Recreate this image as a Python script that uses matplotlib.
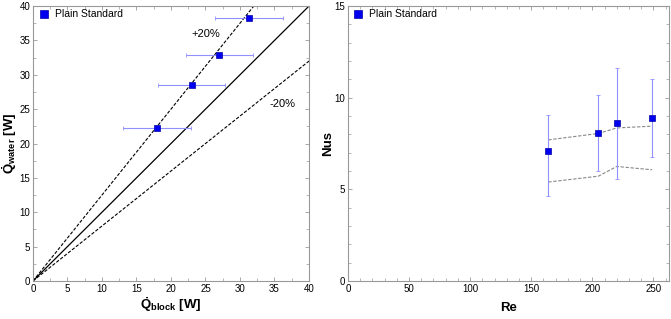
import matplotlib
matplotlib.use('Agg')
import matplotlib.pyplot as plt
from matplotlib.ticker import MultipleLocator
import numpy as np

plt.rcParams['font.family'] = ['Liberation Sans', 'DejaVu Sans']
plt.rcParams['mathtext.fontset'] = 'custom'
plt.rcParams['mathtext.rm'] = 'Liberation Sans:bold'
plt.rcParams['mathtext.bf'] = 'Liberation Sans:bold'
plt.rcParams['mathtext.it'] = 'Liberation Sans:italic'

# left panel: energy balance
q_block = [18.0, 23.0, 27.0, 31.3]
q_water = [22.3, 28.5, 32.9, 38.2]
q_block_err = [4.9, 4.9, 4.85, 4.9]

# right panel: Nusselt vs Reynolds
re = [164, 205, 220, 249]
nus = [7.1, 8.07, 8.6, 8.87]
nus_err_low = [2.45, 2.07, 3.02, 2.09]
nus_err_high = [1.97, 2.08, 3.04, 2.15]
nus_band_up = [7.7, 8.05, 8.35, 8.45]
nus_band_low = [5.4, 5.72, 6.25, 6.07]

marker_color = '#0000ee'
err_color = '#9090ff'
frame_color = '#999999'

fig = plt.figure(figsize=(6.71, 3.19), dpi=100)
ax1 = fig.add_axes([0.049, 0.119, 0.4115, 0.862])
ax2 = fig.add_axes([0.5186, 0.119, 0.4788, 0.862])


def style_axes(ax):
    for s in ax.spines.values():
        s.set_color(frame_color)
        s.set_linewidth(0.8)
    ax.tick_params(which='both', direction='in', top=True, right=True,
                   color=frame_color, labelsize=7, pad=2)
    ax.tick_params(which='major', length=3, width=0.6)
    ax.tick_params(which='minor', length=2, width=0.5)


# ---- left
xx = np.array([0, 40])
ax1.plot(xx, xx, color='black', lw=0.9)
ax1.plot(xx, xx / 0.8, color='black', lw=0.8, ls=(0, (3, 1.5)))
ax1.plot(xx, xx * 0.8, color='black', lw=0.8, ls=(0, (3, 1.5)))
ax1.errorbar(q_block, q_water, xerr=q_block_err, fmt='none', ecolor=err_color,
             elinewidth=0.8, capsize=1.5, capthick=0.6)
ax1.plot(q_block, q_water, 's', color=marker_color, ms=4.5, mec='#0000aa', mew=0.5,
         label='Plain Standard', ls='none')
ax1.text(25.1, 36.0, '+20%', fontsize=8, ha='center', va='center')
ax1.text(36.2, 25.7, '-20%', fontsize=8, ha='center', va='center')
ax1.set_xlim(0, 40)
ax1.set_ylim(0, 40)
ax1.xaxis.set_major_locator(MultipleLocator(5))
ax1.xaxis.set_minor_locator(MultipleLocator(2.5))
ax1.yaxis.set_major_locator(MultipleLocator(5))
ax1.yaxis.set_minor_locator(MultipleLocator(2.5))
style_axes(ax1)
ax1.set_xlabel(r'$\mathbf{\dot{Q}_{block}}$ [W]', fontsize=9.5, fontweight='bold', labelpad=1)
ax1.set_ylabel(r'$\mathbf{\dot{Q}_{water}}$ [W]', fontsize=9.5, fontweight='bold', labelpad=0)
ax1.legend(loc='upper left', frameon=False, fontsize=7.5, handletextpad=0.6,
           borderaxespad=0.0, handlelength=1.0, borderpad=0.3, markerscale=1.2,
           bbox_to_anchor=(0.01, 1.0))

# ---- right
ax2.plot(re, nus_band_up, color='#888888', lw=0.8, ls=(0, (3, 1.5)))
ax2.plot(re, nus_band_low, color='#888888', lw=0.8, ls=(0, (3, 1.5)))
ax2.errorbar(re, nus, yerr=[nus_err_low, nus_err_high], fmt='none', ecolor=err_color,
             elinewidth=0.8, capsize=1.5, capthick=0.6)
ax2.plot(re, nus, 's', color=marker_color, ms=4.5, mec='#0000aa', mew=0.5,
         label='Plain Standard', ls='none')
ax2.set_xlim(0, 263)
ax2.set_ylim(0, 15)
ax2.xaxis.set_major_locator(MultipleLocator(50))
ax2.xaxis.set_minor_locator(MultipleLocator(10))
ax2.yaxis.set_major_locator(MultipleLocator(5))
ax2.yaxis.set_minor_locator(MultipleLocator(1))
style_axes(ax2)
ax2.set_xlabel('Re', fontsize=9.5, fontweight='bold', labelpad=6)
ax2.set_ylabel('Nus', fontsize=9.5, fontweight='bold', labelpad=0)
ax2.legend(loc='upper left', frameon=False, fontsize=7.5, handletextpad=0.6,
           borderaxespad=0.0, handlelength=1.0, borderpad=0.3, markerscale=1.2,
           bbox_to_anchor=(0.005, 1.0))

fig.savefig('out.png', dpi=100)
